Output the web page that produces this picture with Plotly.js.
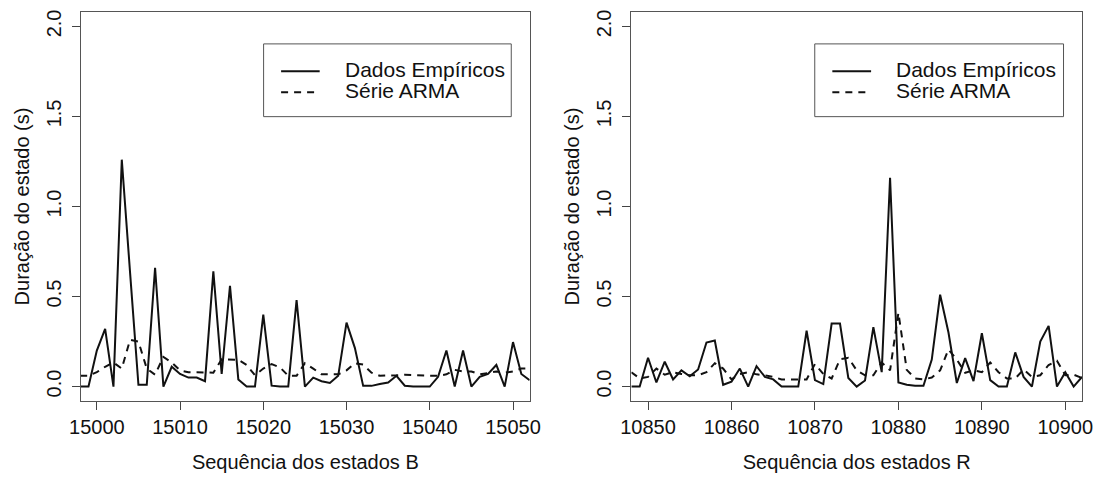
<!DOCTYPE html>
<html>
<head>
<meta charset="utf-8">
<script src="https://cdn.plot.ly/plotly-3.0.1.min.js"></script>
<style>html,body{margin:0;padding:0;background:#fff;}#chart{width:1103px;height:479px;}</style>
</head>
<body>
<div id="chart"></div>
<script>
// ---- data ----
const startB = 14998;   // first sequence index drawn in panel B
const empiricalB = [0, 0, 0.2, 0.32, 0, 1.26, 0.63, 0.01, 0.01, 0.66, 0, 0.11, 0.07, 0.05, 0.05, 0.03, 0.64, 0.07, 0.56, 0.04, 0, 0, 0.40, 0.005, 0, 0, 0.48, 0, 0.05, 0.03, 0.02, 0.06, 0.355, 0.215, 0.004, 0.004, 0.014, 0.023, 0.06, 0.005, 0, 0, 0, 0.054, 0.2, 0, 0.2, 0, 0.054, 0.07, 0.12, 0, 0.247, 0.07, 0.036];
const armaB = [0.06, 0.06, 0.08, 0.11, 0.134, 0.1, 0.26, 0.25, 0.1, 0.066, 0.165, 0.134, 0.09, 0.08, 0.08, 0.077, 0.077, 0.152, 0.152, 0.149, 0.12, 0.063, 0.1, 0.125, 0.107, 0.06, 0.06, 0.13, 0.1, 0.068, 0.068, 0.068, 0.09, 0.13, 0.122, 0.077, 0.06, 0.06, 0.063, 0.066, 0.063, 0.06, 0.06, 0.06, 0.068, 0.093, 0.084, 0.084, 0.068, 0.075, 0.084, 0.077, 0.084, 0.1, 0.1];
const startR = 10848;   // first sequence index drawn in panel R
const empiricalR = [0, 0, 0.16, 0.023, 0.138, 0.04, 0.09, 0.057, 0.095, 0.245, 0.256, 0.01, 0.027, 0.1, 0, 0.113, 0.054, 0.04, 0, 0, 0, 0.31, 0.036, 0.014, 0.35, 0.35, 0.048, 0, 0.034, 0.33, 0.08, 1.16, 0.023, 0.01, 0.005, 0.005, 0.15, 0.51, 0.3, 0.02, 0.158, 0.03, 0.296, 0.036, 0, 0, 0.19, 0.054, 0, 0.25, 0.337, 0, 0.08, 0, 0.054];
const armaR = [0.08, 0.045, 0.054, 0.1, 0.066, 0.08, 0.07, 0.063, 0.063, 0.08, 0.13, 0.1, 0.04, 0.07, 0.08, 0.068, 0.063, 0.054, 0.04, 0.04, 0.04, 0.04, 0.125, 0.07, 0.045, 0.152, 0.16, 0.09, 0.063, 0.063, 0.134, 0.09, 0.41, 0.093, 0.045, 0.04, 0.05, 0.09, 0.206, 0.15, 0.077, 0.09, 0.08, 0.134, 0.08, 0.045, 0.045, 0.095, 0.054, 0.063, 0.12, 0.143, 0.063, 0.066, 0.048];
const ticksB = [15000, 15010, 15020, 15030, 15040, 15050];
const ticksR = [10850, 10860, 10870, 10880, 10890, 10900];
const ticksY = [0, 0.5, 1.0, 1.5, 2.0];
const legendNames = ['Dados Empíricos', 'Série ARMA'];
const xTitleB = 'Sequência dos estados B';
const xTitleR = 'Sequência dos estados R';
const yTitle = 'Duração do estado (s)';

const xsB = empiricalB.map((_, i) => startB + i);
const xsR = empiricalR.map((_, i) => startR + i);

const FONT = 'Liberation Sans, Arial, Helvetica, sans-serif';
const LINE = '#111';

function tr(x, y, name, dash, xa, ya) {
  return {x: x, y: y, name: name, type: 'scatter', mode: 'lines', xaxis: xa, yaxis: ya,
          line: {color: LINE, width: 2, dash: dash}, showlegend: false, hoverinfo: 'x+y'};
}
const data = [
  tr(xsB, empiricalB, legendNames[0], 'solid', 'x', 'y'),
  tr(xsB, armaB, legendNames[1], '7px,6px', 'x', 'y'),
  tr(xsR, empiricalR, legendNames[0], 'solid', 'x2', 'y2'),
  tr(xsR, armaR, legendNames[1], '7px,6px', 'x2', 'y2')
];

function xax(dom, range, ticks, title, anchor) {
  return {domain: dom, range: range, anchor: anchor, tickmode: 'array', tickvals: ticks,
          tickformat: 'd',
          ticks: 'outside', ticklen: 8, tickcolor: '#444', tickwidth: 1,
          showline: true, linecolor: '#555', linewidth: 1, mirror: true,
          showgrid: false, zeroline: false, automargin: true,
          tickfont: {family: FONT, size: 20, color: '#111'},
          title: {text: title, font: {family: FONT, size: 20, color: '#111'}, standoff: 17}};
}
function yax(range, anchor) {
  return {domain: [0, 1], range: range, anchor: anchor, tickmode: 'array', tickvals: ticksY,
          tickformat: '.1f', tickangle: -90, ticklabelstandoff: 3,
          ticks: 'outside', ticklen: 8, tickcolor: '#444', tickwidth: 1,
          showline: true, linecolor: '#555', linewidth: 1, mirror: true,
          showgrid: false, zeroline: false, automargin: true,
          tickfont: {family: FONT, size: 20, color: '#111'},
          title: {text: yTitle, font: {family: FONT, size: 20, color: '#111'}, standoff: 8}};
}

const shapes = [];
const annotations = [];
function legend(xa, ya) {
  const xr = xa + ' domain', yr = ya + ' domain';
  shapes.push({type: 'rect', xref: xr, yref: yr, x0: 0.407, x1: 0.959, y0: 0.731, y1: 0.918,
               line: {color: '#555', width: 1}, fillcolor: 'rgba(0,0,0,0)'});
  shapes.push({type: 'line', xref: xr, yref: yr, x0: 0.446, x1: 0.532, y0: 0.848, y1: 0.848,
               line: {color: LINE, width: 2}});
  shapes.push({type: 'line', xref: xr, yref: yr, x0: 0.446, x1: 0.532, y0: 0.794, y1: 0.794,
               line: {color: LINE, width: 2, dash: '7px,6px'}});
  annotations.push({xref: xr, yref: yr, x: 0.583, y: 0.851, xanchor: 'left', yanchor: 'middle',
                    text: legendNames[0], showarrow: false, font: {family: FONT, size: 21, color: '#111'}});
  annotations.push({xref: xr, yref: yr, x: 0.583, y: 0.797, xanchor: 'left', yanchor: 'middle',
                    text: legendNames[1], showarrow: false, font: {family: FONT, size: 21, color: '#111'}});
}
legend('x', 'y');
legend('x2', 'y2');

const layout = {
  width: 1103, height: 479,
  margin: {l: 81, r: 18, t: 10, b: 70},
  paper_bgcolor: '#fff', plot_bgcolor: '#fff',
  showlegend: false,
  xaxis: xax([0, 0.4482], [14998.1, 15052], ticksB, xTitleB, 'y'),
  yaxis: yax([-0.08, 2.08], 'x'),
  xaxis2: xax([0.5498, 1], [10848, 10902], ticksR, xTitleR, 'y2'),
  yaxis2: yax([-0.08, 2.08], 'x2'),
  shapes: shapes,
  annotations: annotations,
  font: {family: FONT}
};

Plotly.newPlot('chart', data, layout, {displayModeBar: false, staticPlot: true});
</script>
</body>
</html>
